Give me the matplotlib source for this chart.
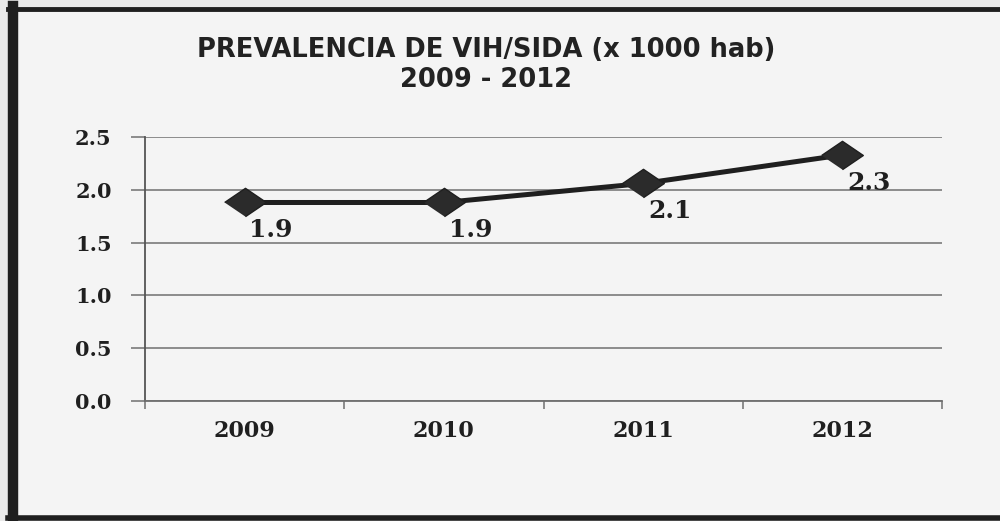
import matplotlib.pyplot as plt
from matplotlib.lines import Line2D
from matplotlib.patches import Rectangle

OUTPUT_PATH = "out.png"

years = ["2009", "2010", "2011", "2012"]
prevalence = [1.88, 1.88, 2.06, 2.33]
value_labels = ["1.9", "1.9", "2.1", "2.3"]
y_ticks = [0.0, 0.5, 1.0, 1.5, 2.0, 2.5]

INK = "#1f1f1f"
GRID = "#6f6f6f"
SERIF = "DejaVu Serif"


def main():
    fig = plt.figure(figsize=(10, 5.21), dpi=100, facecolor="#e9e9e9")

    # scanned frame: paper area, thick left bar, top and bottom rules
    fig.add_artist(Rectangle((0.018, 0.01), 0.982, 0.975, transform=fig.transFigure,
                             facecolor="#f4f4f4", edgecolor="none", zorder=0))
    fig.add_artist(Line2D([0.013, 0.013], [0.0, 0.988], transform=fig.transFigure,
                          color=INK, linewidth=7.5))
    fig.add_artist(Line2D([0.008, 1.0], [0.982, 0.982], transform=fig.transFigure,
                          color=INK, linewidth=3.5))
    fig.add_artist(Line2D([0.008, 1.0], [0.005, 0.005], transform=fig.transFigure,
                          color=INK, linewidth=4))

    ax = fig.add_axes([0.145, 0.2303, 0.797, 0.5067])
    ax.set_facecolor("none")

    x = list(range(len(years)))
    ax.plot(x, prevalence, color=INK, linewidth=3.6, zorder=3,
            marker=[(-1, 0), (0, 0.68), (1, 0), (0, -0.68)],
            markersize=30, markerfacecolor="#2b2b2b", markeredgecolor=INK)

    for xi, yi, lab in zip(x, prevalence, value_labels):
        ax.annotate(lab, (xi, yi), xytext=(19, -20), textcoords="offset points",
                    ha="center", va="center", fontsize=18, fontweight="bold",
                    family=SERIF, color=INK, zorder=4)

    ax.set_xlim(-0.5, len(years) - 0.5)
    ax.set_ylim(0, 2.5)
    ax.set_yticks(y_ticks)
    ax.set_yticklabels([f"{v:.1f}" for v in y_ticks], fontsize=15,
                       fontweight="bold", family=SERIF, color=INK)
    ax.yaxis.grid(True, color=GRID, linewidth=1.1)
    ax.tick_params(axis="y", length=10, width=1.1, color=GRID, pad=14)

    ax.set_xticks(x)
    ax.set_xticklabels(years, fontsize=16, fontweight="bold", family=SERIF, color=INK)
    ax.set_xticks([i - 0.5 for i in range(len(years) + 1)], minor=True)
    ax.tick_params(axis="x", which="major", length=0, pad=14)
    ax.tick_params(axis="x", which="minor", length=6, width=1.1, color=GRID)

    for side in ("top", "right"):
        ax.spines[side].set_visible(False)
    ax.spines["left"].set_color("#555555")
    ax.spines["left"].set_linewidth(1.3)
    ax.spines["bottom"].set_color(GRID)
    ax.spines["bottom"].set_linewidth(1.3)

    fig.text(0.486, 0.904, "PREVALENCIA DE VIH/SIDA (x 1000 hab)", ha="center",
             va="center", fontsize=18.5, fontweight="bold", family="DejaVu Sans",
             color="#222222")
    fig.text(0.486, 0.846, "2009 - 2012", ha="center", va="center", fontsize=18.5,
             fontweight="bold", family="DejaVu Sans", color="#222222")

    fig.savefig(OUTPUT_PATH, dpi=100, facecolor=fig.get_facecolor())
    plt.close(fig)


if __name__ == "__main__":
    main()
